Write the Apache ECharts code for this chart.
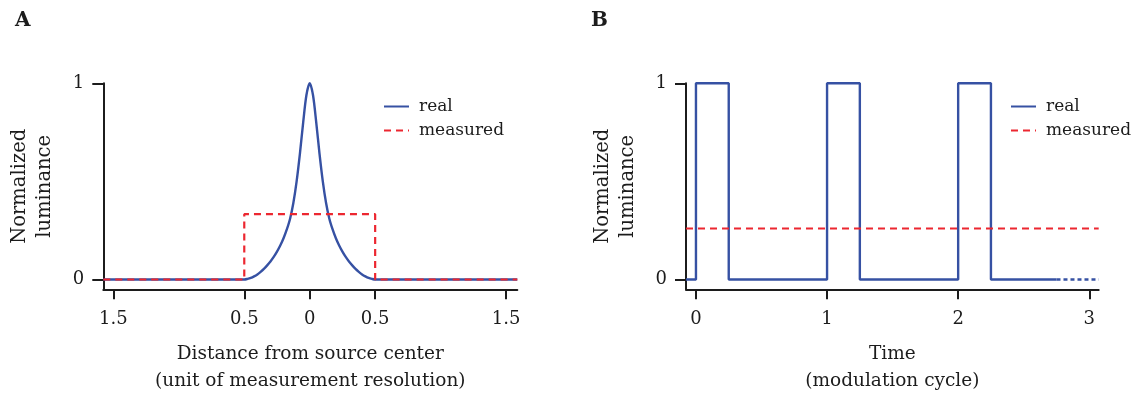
<!DOCTYPE html>
<html>
<head>
<meta charset="utf-8">
<script src="https://cdn.jsdelivr.net/npm/echarts@6.0.0/dist/echarts.min.js"></script>
<style>
html,body{margin:0;padding:0;background:#fff;}
#c{width:1137px;height:394px;}
</style>
</head>
<body>
<div id="c"></div>
<script>
// ---------- data ----------
// Panel A: spatial profile
const realAX = [-1.577, -1.0, -0.6, -0.55, -0.525,
  -0.5, -0.475, -0.45, -0.425, -0.4, -0.375, -0.35, -0.325, -0.3, -0.275, -0.25, -0.225, -0.2, -0.175, -0.15, -0.125, -0.1, -0.075, -0.05, -0.025,
  0,
  0.025, 0.05, 0.075, 0.1, 0.125, 0.15, 0.175, 0.2, 0.225, 0.25, 0.275, 0.3, 0.325, 0.35, 0.375, 0.4, 0.425, 0.45, 0.475, 0.5,
  0.525, 0.55, 0.6, 1.0, 1.586];
const realAY = [0, 0, 0, 0, 0,
  0, 0.003, 0.008, 0.016, 0.026, 0.039, 0.054, 0.072, 0.092, 0.115, 0.142, 0.173, 0.21, 0.255, 0.31, 0.39, 0.50, 0.64, 0.80, 0.94,
  1,
  0.94, 0.80, 0.64, 0.50, 0.39, 0.31, 0.255, 0.21, 0.173, 0.142, 0.115, 0.092, 0.072, 0.054, 0.039, 0.026, 0.016, 0.008, 0.003, 0,
  0, 0, 0, 0, 0];
const measAX = [-1.577, -0.5, -0.5, 0.5, 0.5, 1.586];
const measAY = [0, 0, 0.333, 0.333, 0, 0];
const xTicksA = [-1.5, -0.5, 0, 0.5, 1.5];
const xTickLabelsA = ["1.5", "0.5", "0", "0.5", "1.5"];

// Panel B: temporal profile
const realBX = [-0.076, 0, 0, 0.25, 0.25, 1, 1, 1.25, 1.25, 2, 2, 2.25, 2.25, 2.75];
const realBY = [0, 0, 1, 1, 0, 0, 1, 1, 0, 0, 1, 1, 0, 0];
const contBX = [2.75, 3.072];
const contBY = [0, 0];
const measBX = [-0.076, 3.072];
const measBY = [0.26, 0.26];
const xTicksB = [0, 1, 2, 3];
const xTickLabelsB = ["0", "1", "2", "3"];

const yTicks = [0, 1];
const yTickLabels = ["0", "1"];

const legendNames = ["real", "measured"];
const xNameA = "Distance from source center\n(unit of measurement resolution)";
const xNameB = "Time\n(modulation cycle)";
const yName = "Normalized\nluminance";

// ---------- style ----------
const BLUE = "#3651a3";
const RED = "#ec2730";
const INK = "#1c1c1c";
const FONT = "DejaVu Serif";

const pairs = (xs, ys) => xs.map((x, i) => [x, ys[i]]);

function xAxisDef(idx, min, max, ticks, labels, name) {
  return {
    type: "value", gridIndex: idx, min: min, max: max,
    splitLine: {show: false},
    axisLine: {show: true, onZero: false, lineStyle: {color: INK, width: 2}},
    axisTick: {show: true, customValues: ticks, length: 10, lineStyle: {color: INK, width: 2}},
    axisLabel: {show: true, customValues: ticks, margin: 21, color: INK, fontFamily: FONT, fontSize: 18,
      formatter: v => { const k = ticks.findIndex(t => Math.abs(t - v) < 1e-9); return k >= 0 ? labels[k] : ""; }},
    name: name, nameLocation: "middle", nameGap: 51,
    nameTextStyle: {color: INK, fontFamily: FONT, fontSize: 18.5, lineHeight: 27}
  };
}
function yAxisDef(idx) {
  return {
    type: "value", gridIndex: idx, min: -0.05, max: 1,
    splitLine: {show: false},
    axisLine: {show: true, onZero: false, lineStyle: {color: INK, width: 2}},
    axisTick: {show: true, customValues: yTicks, length: 11, lineStyle: {color: INK, width: 2}},
    axisLabel: {show: true, customValues: yTicks, margin: 19, color: INK, fontFamily: FONT, fontSize: 18,
      formatter: v => { const k = yTicks.findIndex(t => Math.abs(t - v) < 1e-9); return k >= 0 ? yTickLabels[k] : ""; }},
    name: yName, nameLocation: "middle", nameGap: 46,
    nameTextStyle: {color: INK, fontFamily: FONT, fontSize: 19.5, lineHeight: 25}
  };
}
function legendDef(left, top) {
  return {
    data: legendNames, orient: "vertical", left: left, top: top, padding: 0,
    itemWidth: 25, itemHeight: 16, itemGap: 7,
    itemStyle: {opacity: 0},
    textStyle: {color: INK, fontFamily: FONT, fontSize: 17, lineHeight: 16, padding: [0, 0, 0, 5]},
    selectedMode: false
  };
}

const chart = echarts.init(document.getElementById("c"), null, {renderer: "canvas"});
chart.setOption({
  animation: false,
  backgroundColor: "#ffffff",
  title: [
    {text: "A", left: 10, top: 6, textStyle: {fontFamily: FONT, fontWeight: "bold", fontSize: 20, color: INK}},
    {text: "B", left: 586, top: 6, textStyle: {fontFamily: FONT, fontWeight: "bold", fontSize: 20, color: INK}}
  ],
  grid: [
    {left: 103.3, top: 83.3, width: 414, height: 206, outerBoundsMode: "none", containLabel: false},
    {left: 686, top: 83.3, width: 412.7, height: 206, outerBoundsMode: "none", containLabel: false}
  ],
  xAxis: [
    xAxisDef(0, -1.577, 1.586, xTicksA, xTickLabelsA, xNameA),
    xAxisDef(1, -0.076, 3.072, xTicksB, xTickLabelsB, xNameB)
  ],
  yAxis: [yAxisDef(0), yAxisDef(1)],
  legend: [legendDef(383, 98), legendDef(1010, 98)],
  series: [
    {name: "real", type: "line", xAxisIndex: 0, yAxisIndex: 0, data: pairs(realAX, realAY),
      symbol: "none", smooth: 0.3, lineStyle: {color: BLUE, width: 2.4}, itemStyle: {color: BLUE}},
    {name: "measured", type: "line", xAxisIndex: 0, yAxisIndex: 0, data: pairs(measAX, measAY),
      symbol: "none", lineStyle: {color: RED, width: 2.2, type: [7, 5]}, itemStyle: {color: RED}},
    {name: "real", type: "line", xAxisIndex: 1, yAxisIndex: 1, data: pairs(realBX, realBY),
      symbol: "none", lineStyle: {color: BLUE, width: 2.4}, itemStyle: {color: BLUE}},
    {name: "real (continued)", type: "line", xAxisIndex: 1, yAxisIndex: 1, data: pairs(contBX, contBY),
      symbol: "none", lineStyle: {color: BLUE, width: 2.4, type: [4, 3]}, itemStyle: {color: BLUE}},
    {name: "measured", type: "line", xAxisIndex: 1, yAxisIndex: 1, data: pairs(measBX, measBY),
      symbol: "none", lineStyle: {color: RED, width: 2.2, type: [7, 5]}, itemStyle: {color: RED}}
  ]
});
</script>
</body>
</html>
